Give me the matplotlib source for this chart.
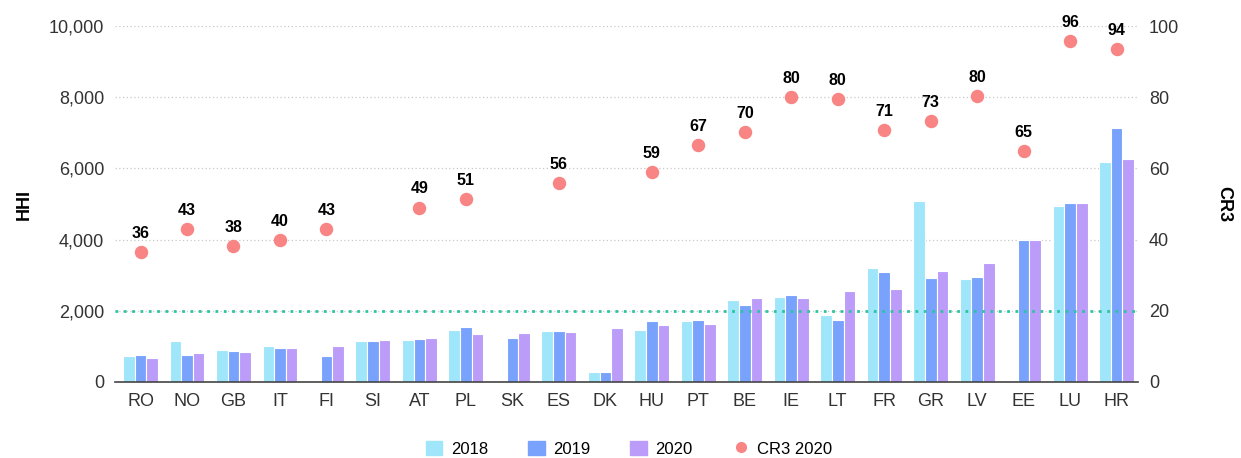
import numpy as np
import matplotlib.pyplot as plt
from matplotlib.lines import Line2D
from matplotlib.patches import Patch
from matplotlib.ticker import FuncFormatter

plt.rcParams['font.family'] = ['Liberation Sans Narrow', 'Liberation Sans', 'DejaVu Sans']

# =========================
# DATI
# =========================
countries = ["RO", "NO", "GB", "IT", "FI", "SI", "AT", "PL", "SK", "ES", "DK",
             "HU", "PT", "BE", "IE", "LT", "FR", "GR", "LV", "EE", "LU", "HR"]
hhi_2018 = [720, 1140, 900, 1000, np.nan, 1150, 1180, 1470, np.nan, 1420, 290,
            1470, 1720, 2310, 2380, 1880, 3200, 5080, 2880, np.nan, 4940, 6170]
hhi_2019 = [760, 750, 880, 955, 730, 1140, 1210, 1545, 1236, 1442, 272,
            1713, 1742, 2163, 2435, 1750, 3100, 2920, 2950, 3980, 5030, 7140]
hhi_2020 = [680, 806, 834, 950, 1000, 1190, 1236, 1340, 1376, 1396, 1517,
            1592, 1629, 2351, 2360, 2556, 2604, 3110, 3340, 3980, 5030, 6260]
cr3_2020 = [36.4, 42.9, 38.3, 39.8, 42.9, np.nan, 49.0, 51.3, np.nan, 55.8, np.nan,
            59.0, 66.6, 70.3, 80.1, 79.6, 70.9, 73.4, 80.4, 64.9, 95.9, 93.6]
threshold_hhi = 2000

# =========================
# PLOT
# =========================
c18, c19, c20, cdot = '#9fe6fb', '#78a2fb', '#bb9cf8', '#f98484'

fig = plt.figure(figsize=(12.41, 4.58), dpi=100)
ax = fig.add_axes([0.093, 0.166, 0.824, 0.777])
ax2 = ax.twinx()

x = np.arange(len(countries))
w = 0.25
ax.bar(x - w, hhi_2018, w, color=c18, edgecolor='white', linewidth=0.8, zorder=3)
ax.bar(x, hhi_2019, w, color=c19, edgecolor='white', linewidth=0.8, zorder=3)
ax.bar(x + w, hhi_2020, w, color=c20, edgecolor='white', linewidth=0.8, zorder=3)
ax.axhline(threshold_hhi, color='#2ec4a0', linestyle=(0, (1, 2)), linewidth=2, zorder=4)

ax.set_ylim(0, 10000)
ax.set_xlim(-0.54, 21.46)
ax.set_yticks(np.arange(0, 10001, 2000))
ax.yaxis.set_major_formatter(FuncFormatter(lambda v, p: f"{int(v):,}"))
ax.set_xticks(x)
ax.set_xticklabels(countries)
ax.grid(axis='y', color='#c8c8c8', linestyle=(0, (1, 2)), linewidth=0.9, zorder=0)
ax.tick_params(length=0, labelsize=13, colors='#333333', pad=8)
for s in ['top', 'right', 'left']:
    ax.spines[s].set_visible(False)
ax.spines['bottom'].set_color('#444444')
ax.spines['bottom'].set_linewidth(1.2)
ax.spines['bottom'].set_zorder(6)
ax.set_ylabel("HHI", fontsize=13, fontweight='bold', labelpad=12)

ax2.scatter(x, cr3_2020, s=75, color=cdot, zorder=5)
for xi, v in zip(x, cr3_2020):
    if not np.isnan(v):
        ax2.annotate(f"{v:.0f}", (xi, v), xytext=(0, 8), textcoords='offset points',
                     ha='center', va='bottom', fontsize=11.5, fontweight='bold')
ax2.set_ylim(0, 100)
ax2.set_yticks(np.arange(0, 101, 20))
ax2.tick_params(length=0, labelsize=13, colors='#333333', pad=8)
for s in ['top', 'right', 'left', 'bottom']:
    ax2.spines[s].set_visible(False)
ax2.set_ylabel("CR3", fontsize=13, fontweight='bold', rotation=270, labelpad=38)

handles = [Patch(color=c18, label='2018'), Patch(color=c19, label='2019'),
           Patch(color=c20, label='2020'),
           Line2D([], [], marker='o', linestyle='', color=cdot, markersize=7, label='CR3 2020')]
fig.legend(handles=handles, loc='lower center', bbox_to_anchor=(0.507, -0.03), ncol=4,
           frameon=False, fontsize=12, handlelength=1.0, handleheight=1.0,
           columnspacing=2.4, handletextpad=0.5)

plt.savefig("out.png", dpi=100)
plt.close()
